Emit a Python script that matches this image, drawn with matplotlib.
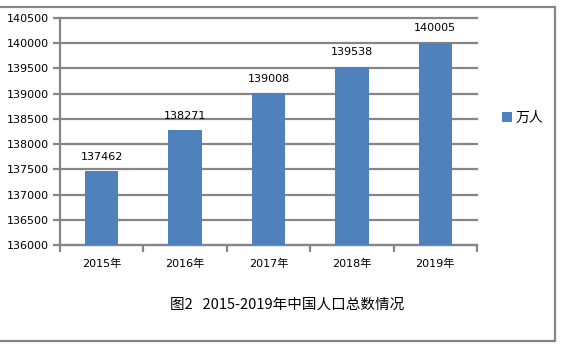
import matplotlib.pyplot as plt
from matplotlib.patches import Rectangle

plt.rcParams['font.family'] = ['DejaVu Sans', 'Noto Sans CJK SC']

years = ['2015年', '2016年', '2017年', '2018年', '2019年']
population = [137462, 138271, 139008, 139538, 140005]
series_name = '万人'
caption = '图2   2015-2019年中国人口总数情况'

bar_color = '#4f81bd'
grid_color = '#868686'

W, H = 573, 353
fig = plt.figure(figsize=(W / 100, H / 100), dpi=100)

# outer chart frame
fig.patches.append(Rectangle((-2 / W, 1 - 341 / H), 557 / W, (341 - 7) / H,
                             transform=fig.transFigure, fill=False,
                             edgecolor=grid_color, linewidth=1.6))

ax = fig.add_axes([60 / W, 1 - 245 / H, (477 - 60) / W, (245 - 18) / H])
x = list(range(len(years)))
bars = ax.bar(x, population, width=0.4, color=bar_color, zorder=3, label=series_name)
ax.set_ylim(136000, 140500)
ax.set_xlim(-0.5, len(years) - 0.5)
ax.set_yticks(range(136000, 140501, 500))
ax.yaxis.grid(True, color=grid_color, linewidth=1.6, zorder=0)
for gl in ax.yaxis.get_gridlines():
    gl.set_clip_on(False)
ax.tick_params(axis='y', length=5, width=1.6, color=grid_color, labelsize=8, pad=3)

ax.set_xticks(x)
ax.set_xticklabels(years)
ax.set_xticks([i - 0.5 for i in range(len(years) + 1)], minor=True)
ax.tick_params(axis='x', which='major', length=0, labelsize=8, pad=10)
ax.tick_params(axis='x', which='minor', length=5, width=1.6, color=grid_color)

for s in ['top', 'right']:
    ax.spines[s].set_visible(False)
for s in ['left', 'bottom']:
    ax.spines[s].set_color(grid_color)
    ax.spines[s].set_linewidth(1.6)

for b, v in zip(bars, population):
    ax.annotate(str(v), (b.get_x() + b.get_width() / 2, v), xytext=(0, 7),
                textcoords='offset points', ha='center', va='bottom', fontsize=8)

ax.legend(loc='center left', bbox_to_anchor=(1.03, 0.56), frameon=False,
          handlelength=0.7, handleheight=0.7, handletextpad=0.3, fontsize=10)

fig.text(287 / W, 1 - 305 / H, caption, ha='center', va='center', fontsize=10.5,
         family=['Noto Sans CJK SC', 'DejaVu Sans'])

fig.savefig('out.png', dpi=100)
